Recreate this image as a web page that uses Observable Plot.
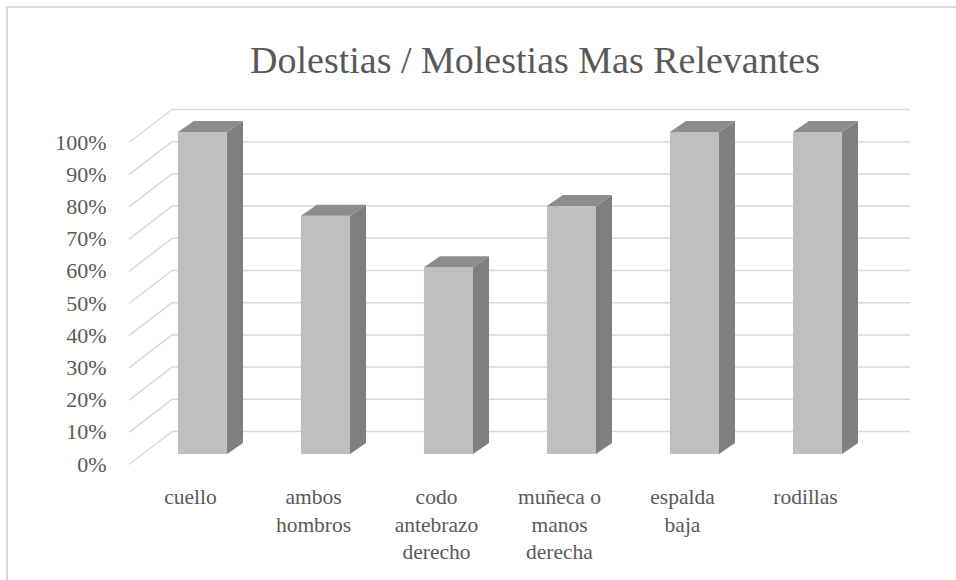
<!DOCTYPE html>
<html>
<head>
<meta charset="utf-8">
<script src="https://cdn.jsdelivr.net/npm/d3@7"></script>
<script src="https://cdn.jsdelivr.net/npm/@observablehq/plot@0.6"></script>
<style>
  body { margin: 0; background: #fff; font-family: 'Liberation Serif'; }
  #frame { position: absolute; left: 6px; top: 6px; width: 950px; height: 574px;
           border-top: 2px solid #d9d9d9; border-left: 2px solid #d9d9d9; }
  #title { position: absolute; left: 0; top: 38px; width: 1070px; text-align: center;
           font-family: 'Liberation Serif'; font-size: 38px; color: #595959; }
  #chart { position: absolute; left: 0; top: 90px; }
  #chart svg, #chart svg text { font-family: 'Liberation Serif' !important; }
</style>
</head>
<body>
<div id="frame"></div>
<div id="title">Dolestias / Molestias Mas Relevantes</div>
<div id="chart"></div>
<script>
const categories = ["cuello", "ambos\nhombros", "codo\nantebrazo\nderecho", "muñeca o\nmanos\nderecha", "espalda\nbaja", "rodillas"];
const values = [100, 74, 58, 77, 100, 100];
const yTicks = [0, 10, 20, 30, 40, 50, 60, 70, 80, 90, 100];

// 3D offsets in data units
const wallDX = 0.35, wallDY = 10.25;   // floor front -> back wall
const barX0 = 0.402, barX1 = 0.801;    // bar front face within category
const barDY0 = 3.1;                    // bar front face base above floor front
const depthDX = 0.13, depthDY = 3.42;  // bar depth

const bars = categories.map((c, i) => ({i, c, v: values[i]}));
const sideFaces = bars.flatMap(b => [
  {i: b.i, x: b.i + barX1, y1: barDY0, y2: b.v + barDY0},
  {i: b.i, x: b.i + barX1 + depthDX, y1: barDY0 + depthDY, y2: b.v + barDY0 + depthDY}
]);
const topFaces = bars.flatMap(b => [
  {i: b.i, y: b.v + barDY0, x1: b.i + barX0, x2: b.i + barX1},
  {i: b.i, y: b.v + barDY0 + depthDY, x1: b.i + barX0 + depthDX, x2: b.i + barX1 + depthDX}
]);

const serif = "Liberation Serif";
const chart = Plot.plot({
  width: 956,
  height: 490,
  marginLeft: 128,
  style: {fontFamily: serif, color: "#595959", background: "transparent"},
  x: {domain: [0, 6], range: [128.5, 866.5], axis: null},
  y: {domain: [0, 100], range: [374, 52]},
  marks: [
    Plot.link(yTicks, {x1: 0, y1: d => d, x2: wallDX, y2: d => d + wallDY, stroke: "#d9d9d9", strokeWidth: 1.5}),
    Plot.link(yTicks, {x1: wallDX, y1: d => d + wallDY, x2: 6 + wallDX, y2: d => d + wallDY, stroke: "#d9d9d9", strokeWidth: 1.5}),
    Plot.axisY({ticks: yTicks, tickSize: 0, tickPadding: 22, tickFormat: d => d + "%", fontSize: 22, fill: "#595959", fontFamily: serif}),
    Plot.rect(bars, {x1: d => d.i + barX0, x2: d => d.i + barX1, y1: barDY0, y2: d => d.v + barDY0, fill: "#bfbfbf"}),
    Plot.areaY(sideFaces, {x: "x", y1: "y1", y2: "y2", z: "i", fill: "#7f7f7f"}),
    Plot.areaX(topFaces, {y: "y", x1: "x1", x2: "x2", z: "i", fill: "#8c8c8c"}),
    Plot.text(bars, {x: d => d.i + 0.5, y: 0, text: "c", lineAnchor: "top", dy: 20, lineHeight: 1.28, fontSize: 21.5, fill: "#595959", fontFamily: serif})
  ]
});
document.getElementById("chart").append(chart);
</script>
</body>
</html>
